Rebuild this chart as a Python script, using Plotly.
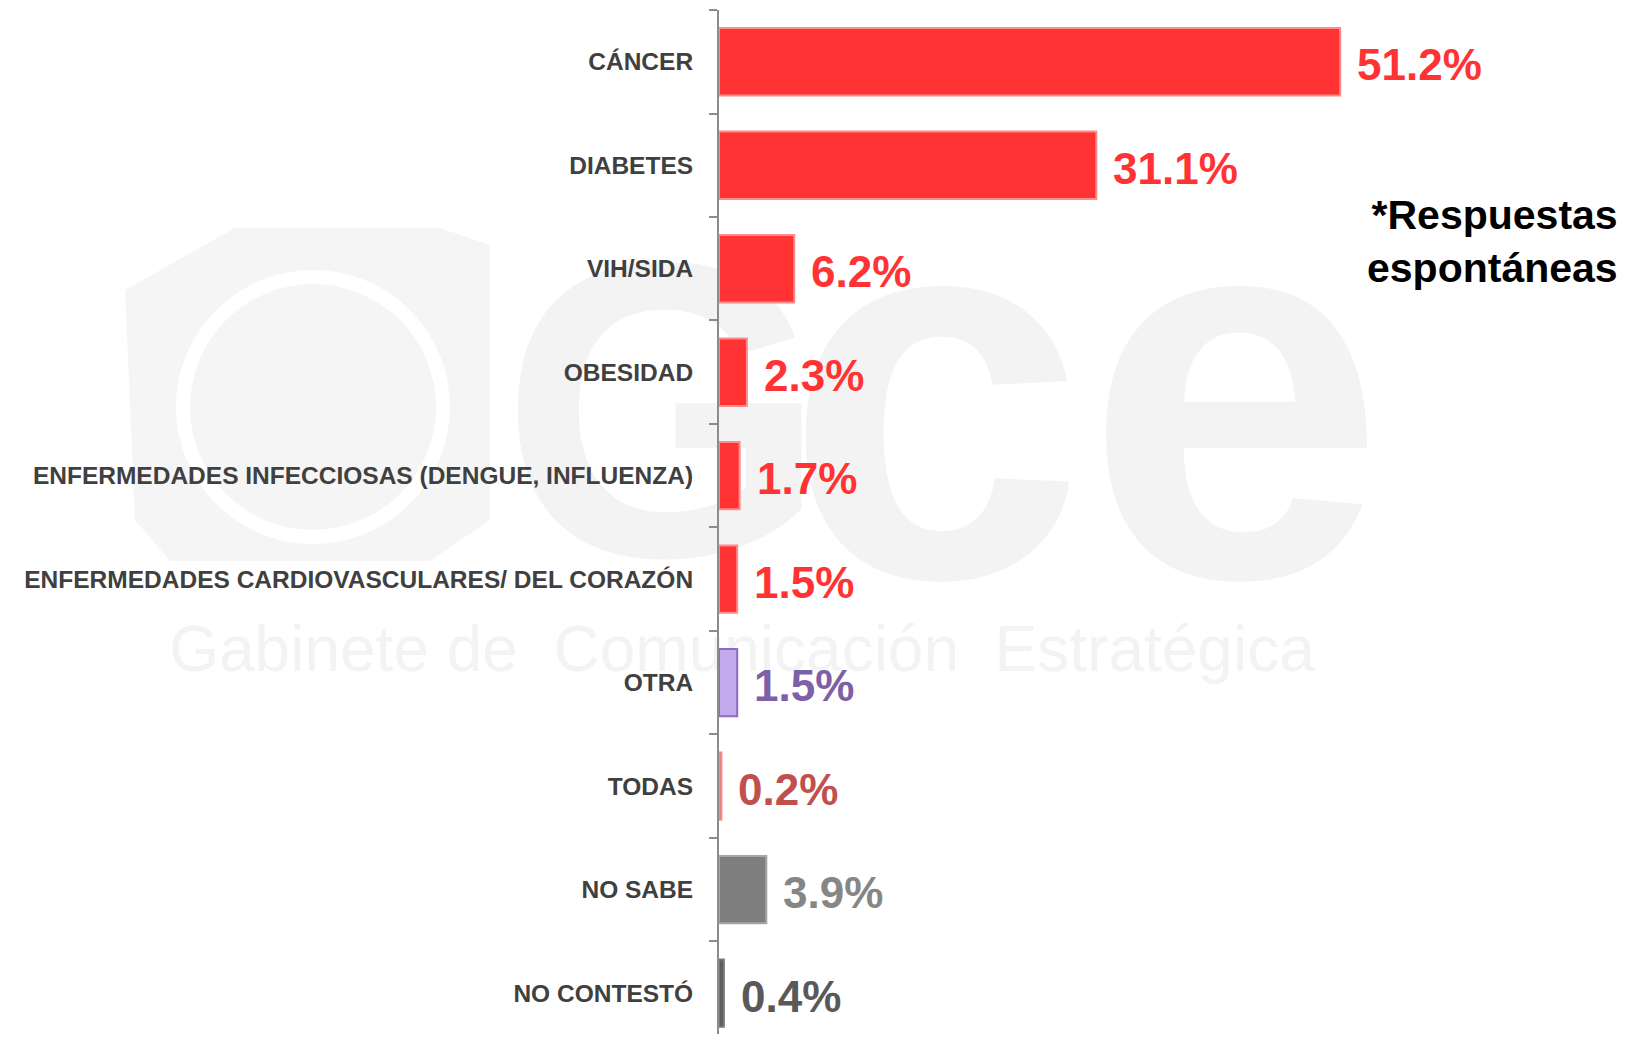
import plotly.graph_objects as go

categories = ["CÁNCER", "DIABETES", "VIH/SIDA", "OBESIDAD",
              "ENFERMEDADES INFECCIOSAS (DENGUE, INFLUENZA)",
              "ENFERMEDADES CARDIOVASCULARES/ DEL CORAZÓN",
              "OTRA", "TODAS", "NO SABE", "NO CONTESTÓ"]
values = [51.2, 31.1, 6.2, 2.3, 1.7, 1.5, 1.5, 0.2, 3.9, 0.4]
value_labels = ["51.2%", "31.1%", "6.2%", "2.3%", "1.7%", "1.5%", "1.5%", "0.2%", "3.9%", "0.4%"]

red = "#FF3333"
bar_colors = [red] * 6 + ["#C2AAEC", "#E46A68", "#7F7F7F", "#5E5E5E"]
bar_lines = ["#FF8C8C"] * 6 + ["#8E6CC4", "#F09090", "#A6A6A6", "#777777"]
label_colors = [red] * 6 + ["#7E60A8", "#C0504D", "#868686", "#595959"]

FONT = "Liberation Sans"

# figure geometry (page has an 8px body margin)
W, H = 1612, 1026
ML, MR, MT, MB = 711, 173, 2, 0
PW, PH = W - ML - MR, H - MT - MB


def paper(px, py):
    """page pixel -> paper coordinates"""
    fx, fy = px - 8, py - 8
    return (fx - ML) / PW, (H - MB - fy) / PH


fig = go.Figure()
fig.add_trace(go.Bar(
    y=categories, x=values, orientation="h", width=0.65,
    marker=dict(color=bar_colors, line=dict(color=bar_lines, width=2)),
    hoverinfo="skip",
))

for cat, val, txt, col in zip(categories, values, value_labels, label_colors):
    fig.add_annotation(x=val, y=cat, xref="x", yref="y", text=txt, showarrow=False,
                       xanchor="left", yanchor="middle", xshift=15, yshift=-3,
                       font=dict(family=FONT, size=44, color=col, weight="bold"))

ax, ay = paper(1620, 241)
fig.add_annotation(x=ax, y=ay, xref="paper", yref="paper",
                   text="*Respuestas<br>espontáneas", showarrow=False,
                   xanchor="right", yanchor="middle", align="right",
                   font=dict(family=FONT, size=41, color="#000000", weight="bold"))

# faint watermark behind the chart
wm = "#F3F3F3"


def wm_label(text, cx, cy, size, bold=True):
    px_, py_ = paper(cx, cy)
    fig.add_shape(type="rect", xref="paper", yref="paper",
                  x0=px_ - 0.5, x1=px_ + 0.5, y0=py_ - 0.1, y1=py_ + 0.1,
                  line=dict(width=0), fillcolor="rgba(0,0,0,0)", layer="below",
                  label=dict(text=text, textposition="middle center",
                             font=dict(family=FONT, size=size, color=wm,
                                       weight="bold" if bold else "normal")))


wm_label("Gabinete de  Comunicación  Estratégica", 742, 643, 64, bold=False)
wm_label("G", 664, 370, 420)
wm_label("ce", 1085, 338, 540)

cube = [(125, 290), (235, 228), (440, 228), (490, 245), (490, 520), (430, 561), (170, 561), (135, 520)]
pts = [paper(x, y) for x, y in cube]
path = "M " + " L ".join(f"{x:.4f},{y:.4f}" for x, y in pts) + " Z"
fig.add_shape(type="path", xref="paper", yref="paper", path=path,
              fillcolor="#F5F5F5", line=dict(width=0), layer="below")
c0 = paper(313 - 130, 407 + 130)
c1 = paper(313 + 130, 407 - 130)
fig.add_shape(type="circle", xref="paper", yref="paper", x0=c0[0], y0=c0[1], x1=c1[0], y1=c1[1],
              line=dict(color="white", width=14), fillcolor="rgba(0,0,0,0)", layer="below")

fig.update_yaxes(type="category", categoryorder="array", categoryarray=categories,
                 range=[9.394, -0.5], tickson="boundaries", ticks="outside", ticklen=8,
                 tickwidth=2, tickcolor="#8C8C8C", showline=True, linecolor="#8C8C8C",
                 linewidth=2, showgrid=False, zeroline=False, ticklabelstandoff=19,
                 tickfont=dict(family=FONT, size=24.5, color="#404040", weight="bold"))
fig.update_xaxes(range=[0, 60], visible=False)

fig.update_layout(width=W, height=H, margin=dict(l=ML, r=MR, t=MT, b=MB),
                  plot_bgcolor="white", paper_bgcolor="white", showlegend=False,
                  bargap=0.35)

fig.write_html("out.html")
